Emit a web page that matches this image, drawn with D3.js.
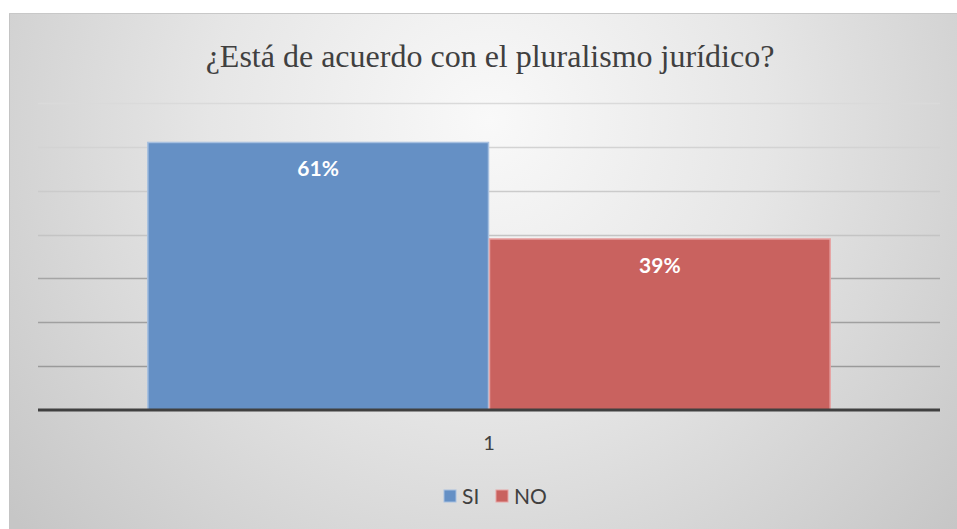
<!DOCTYPE html>
<html>
<head>
<meta charset="utf-8">
<script src="https://cdn.jsdelivr.net/npm/d3@7"></script>
<style>
  body { margin: 0; background: #fff; }
  .title { font-family: "Liberation Serif", "Times New Roman", serif; }
</style>
</head>
<body>
<div id="chart"></div>
<script>
// data
var categories = ["1"];
var seriesNames = ["SI", "NO"];
var seriesValues = [0.61, 0.39];
var seriesLabels = ["61%", "39%"];
var gridTicks = [0, 0.1, 0.2, 0.3, 0.4, 0.5, 0.6, 0.7];
var titleText = "¿Está de acuerdo con el pluralismo jurídico?";

var colors = { SI: "#6590c5", NO: "#c9625f" };
var borders = { SI: "#a7c0e0", NO: "#e7a3a3" };

var W = 957, H = 529;
var plot = { left: 38, right: 940, top: 103, bottom: 410 };

var svg = d3.select("#chart")
    .append("svg")
    .attr("width", W)
    .attr("height", H);

// background gradient
var defs = svg.append("defs");
var grad = defs.append("radialGradient")
    .attr("id", "bg")
    .attr("gradientUnits", "userSpaceOnUse")
    .attr("cx", 489).attr("cy", 120).attr("r", 620);
grad.append("stop").attr("offset", "0%").attr("stop-color", "#f9f9f9");
grad.append("stop").attr("offset", "45%").attr("stop-color", "#e6e6e6");
grad.append("stop").attr("offset", "100%").attr("stop-color", "#c6c6c6");

svg.append("rect")
    .attr("x", 9).attr("y", 13)
    .attr("width", W - 9).attr("height", H - 13)
    .attr("fill", "url(#bg)");
// frame edges
svg.append("line").attr("x1", 9.5).attr("y1", 13).attr("x2", 9.5).attr("y2", H)
    .attr("stroke", "#c4c4c4").attr("stroke-width", 1);
svg.append("line").attr("x1", 9).attr("y1", 13.5).attr("x2", W).attr("y2", 13.5)
    .attr("stroke", "#c8c8c8").attr("stroke-width", 1);

// title
svg.append("text")
    .attr("class", "title")
    .attr("x", 490).attr("y", 67)
    .attr("text-anchor", "middle")
    .attr("font-size", 32)
    .attr("fill", "#404040")
    .text(titleText);

// scales
var y = d3.scaleLinear()
    .domain([0, 0.7])
    .range([plot.bottom, plot.top]);

var x0 = d3.scaleBand()
    .domain(categories)
    .range([plot.left, plot.right])
    .paddingOuter(0.16);

var x1 = d3.scaleBand()
    .domain(seriesNames)
    .range([0, x0.bandwidth()]);

// gridlines, fainter near the top
var gridColor = d3.scaleLinear()
    .domain([0.7, 0.4, 0.3, 0.1])
    .range(["#dadada", "#c4c4c4", "#a5a5a5", "#9a9a9a"]);

svg.append("g")
    .selectAll("line.grid")
    .data(gridTicks.filter(function (d) { return d > 0; }))
    .enter()
    .append("line")
    .attr("class", "grid")
    .attr("x1", plot.left)
    .attr("x2", plot.right)
    .attr("y1", function (d) { return Math.round(y(d)) + 0.5; })
    .attr("y2", function (d) { return Math.round(y(d)) + 0.5; })
    .attr("stroke", function (d) { return gridColor(d); })
    .attr("stroke-width", 1.5);

// bars
var g = svg.append("g")
    .attr("transform", "translate(" + x0(categories[0]) + ",0)");

g.selectAll("rect.bar")
    .data(seriesNames)
    .enter()
    .append("rect")
    .attr("class", "bar")
    .attr("x", function (d) { return x1(d) + 0.5; })
    .attr("y", function (d, i) { return y(seriesValues[i]); })
    .attr("width", x1.bandwidth() - 1)
    .attr("height", function (d, i) { return y(0) - y(seriesValues[i]); })
    .attr("fill", function (d) { return colors[d]; })
    .attr("stroke", function (d) { return borders[d]; })
    .attr("stroke-width", 1.5);

g.selectAll("text.lab")
    .data(seriesNames)
    .enter()
    .append("text")
    .attr("class", "lab")
    .attr("x", function (d) { return x1(d) + x1.bandwidth() / 2; })
    .attr("y", function (d, i) { return y(seriesValues[i]) + 34; })
    .attr("text-anchor", "middle")
    .style("font-family", "Lato, 'Open Sans', sans-serif")
    .style("font-weight", "bold")
    .style("font-size", "21px")
    .style("fill", "#ffffff")
    .text(function (d, i) { return seriesLabels[i]; });

// x axis
var xAxis = svg.append("g")
    .attr("transform", "translate(0," + plot.bottom + ")")
    .call(d3.axisBottom(x0).tickSize(0).tickPadding(26));
xAxis.select(".domain")
    .attr("d", "M" + plot.left + ",0H" + plot.right)
    .attr("stroke", "#404040")
    .attr("stroke-width", 3);
xAxis.selectAll("text")
    .style("font-family", "Lato, 'Open Sans', sans-serif")
    .style("font-size", "20px")
    .style("fill", "#404040");

// legend
var legend = svg.append("g")
    .selectAll("g.leg")
    .data(seriesNames)
    .enter()
    .append("g")
    .attr("class", "leg")
    .attr("transform", function (d, i) { return "translate(" + [444, 496][i] + ",490)"; });

legend.append("rect")
    .attr("width", 12).attr("height", 12)
    .attr("fill", function (d) { return colors[d]; })
    .attr("stroke", function (d) { return borders[d]; })
    .attr("stroke-width", 1);

legend.append("text")
    .attr("x", 18).attr("y", 13.5)
    .style("font-family", "Lato, 'Open Sans', sans-serif")
    .style("font-size", "21px")
    .style("fill", "#404040")
    .text(function (d) { return d; });
</script>
</body>
</html>
